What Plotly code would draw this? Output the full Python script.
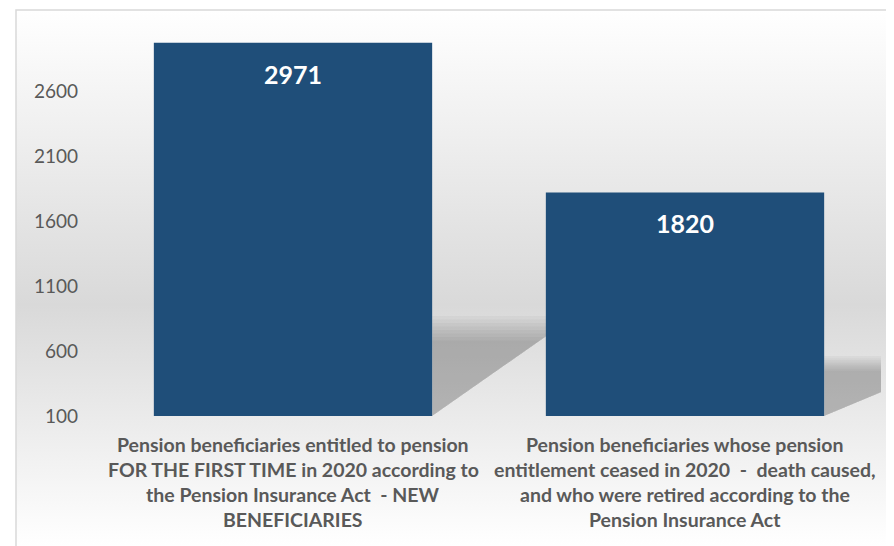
import base64
import plotly.graph_objects as go

# ---- data ----
categories = ["new", "ceased"]
values = [2971, 1820]
category_lines = [
    ["Pension beneficiaries entitled to pension",
     "FOR THE FIRST TIME in 2020 according to",
     "the Pension Insurance Act  - NEW",
     "BENEFICIARIES"],
    ["Pension beneficiaries whose pension",
     "entitlement ceased in 2020  -  death caused,",
     "and who were retired according to the",
     "Pension Insurance Act"],
]
y_ticks = [100, 600, 1100, 1600, 2100, 2600]
y_min, y_max = 100, 3100

# ---- layout geometry (page body has an 8px margin) ----
OFF = 8
W, H = 894 - OFF, 546 - OFF
ML, MR, MT, MB = 97 - OFF, 13, 26 - OFF, 130
PW, PH = W - ML - MR, H - MT - MB
BAR_W = 0.71
FONT = "Lato, Carlito, Calibri, sans-serif"
TXT = "#595959"
BAR = "#1F4E79"

def px_x(px):
    return (px - ML) / PW

def px_y(py):
    return (H - MB - py) / PH

# background gradient as svg image (chart area starts at 16,10 on screen)
bx, by = 16 - OFF, 10 - OFF
bw, bh = W - bx, H - by
svg = (
    f'<svg xmlns="http://www.w3.org/2000/svg" width="{bw}" height="{bh}">'
    '<defs><linearGradient id="g" x1="0" y1="0" x2="0" y2="1">'
    '<stop offset="0" stop-color="#ffffff"/>'
    '<stop offset="0.55" stop-color="#d9d9d9"/>'
    '<stop offset="1" stop-color="#ffffff"/>'
    '</linearGradient></defs>'
    f'<rect width="{bw}" height="{bh}" fill="url(#g)"/></svg>'
)
src = "data:image/svg+xml;base64," + base64.b64encode(svg.encode()).decode()

fig = go.Figure()
fig.add_trace(go.Bar(
    x=categories, y=values,
    marker=dict(color=BAR, line=dict(width=0)),
    width=BAR_W, hoverinfo="skip",
))

shapes = []
shapes.append(dict(type="rect", xref="paper", yref="paper",
                   x0=px_x(bx), x1=px_x(W + 20), y0=px_y(H + 20), y1=px_y(by),
                   line=dict(color="#d9d9d9", width=1.5), fillcolor="rgba(0,0,0,0)",
                   layer="below"))

# soft perspective shadows to the right of each bar (derived from values)
n_layers = 8
for i, v in enumerate(values):
    R = i + BAR_W / 2
    h = (v - y_min) * 0.235
    for k in range(n_layers):
        grow = 0.86 + 0.28 * k / (n_layers - 1)
        top = y_min + h * grow
        dx = 0.32 * grow
        path = f"M {R},{y_min} L {R},{top} L {R + dx},{top} Z"
        shapes.append(dict(type="path", xref="x", yref="y", path=path,
                           fillcolor="rgba(0,0,0,0.032)", line=dict(width=0),
                           layer="below"))

annotations = []
for cat, v in zip(categories, values):
    annotations.append(dict(x=cat, y=v, xref="x", yref="y", text=f"<b>{v}</b>",
                            showarrow=False, yanchor="middle", yshift=-31,
                            font=dict(family=FONT, size=25, color="white")))
for cat, lines in zip(categories, category_lines):
    for j, line in enumerate(lines):
        annotations.append(dict(x=cat, y=0, xref="x", yref="paper",
                                text=f"<b>{line}</b>", showarrow=False,
                                yanchor="middle", yshift=-(28 + 25.3 * j),
                                font=dict(family=FONT, size=19.5, color=TXT)))

fig.update_layout(
    width=W, height=H,
    margin=dict(l=ML, r=MR, t=MT, b=MB),
    paper_bgcolor="white", plot_bgcolor="rgba(0,0,0,0)",
    showlegend=False,
    bargap=1 - BAR_W,
    images=[dict(source=src, xref="paper", yref="paper",
                 x=px_x(bx), y=px_y(by), sizex=bw / PW, sizey=bh / PH,
                 xanchor="left", yanchor="top", sizing="stretch", layer="below")],
    shapes=shapes,
    annotations=annotations,
    xaxis=dict(range=[-0.5, 1.5], showticklabels=False, showgrid=False,
               zeroline=False, showline=False, ticks=""),
    yaxis=dict(range=[y_min, y_max], tickvals=y_ticks, showgrid=False,
               zeroline=False, showline=False, ticks="", ticklabelstandoff=18,
               tickfont=dict(family=FONT, size=19, color=TXT)),
)

fig.write_html("out.html")
